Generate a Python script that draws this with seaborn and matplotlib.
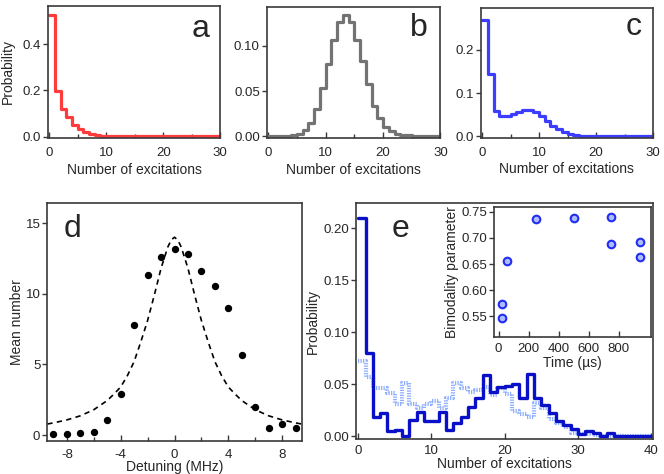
import numpy as np
import pandas as pd
import seaborn as sns
import matplotlib
matplotlib.use("Agg")
import matplotlib.pyplot as plt
from matplotlib.ticker import MultipleLocator

# ---------------- data ----------------
# panel a (bins of width 1 starting at 0)
prob_a = [0.526, 0.197, 0.119, 0.083, 0.051, 0.033, 0.021, 0.011, 0.007, 0.004,
          0.001, 0.001, 0.001, 0.001, 0.001, 0.001, 0.001, 0.001, 0.001, 0.001,
          0.001, 0.001, 0.001, 0.001, 0.001, 0.001, 0.001, 0.001, 0.001, 0.001]
# panel b
prob_b = [0.0005, 0.0005, 0.0005, 0.0007, 0.001, 0.003, 0.007, 0.015, 0.030, 0.053,
          0.080, 0.1065, 0.1265, 0.1345, 0.1265, 0.1065, 0.083, 0.0575, 0.034, 0.020,
          0.010, 0.0055, 0.003, 0.0015, 0.001, 0.0007, 0.0005, 0.0005, 0.0005, 0.0005]
# panel c
prob_c = [0.268, 0.143, 0.059, 0.048, 0.048, 0.052, 0.057, 0.0615, 0.0615, 0.0555,
          0.046, 0.035, 0.025, 0.016, 0.010, 0.0053, 0.003, 0.0015, 0.0008, 0.0005,
          0.0005, 0.0005, 0.0005, 0.0005, 0.0005, 0.0005, 0.0005, 0.0005, 0.0005, 0.0005]

# panel d: measured mean number vs detuning
detuning = [-9, -8, -7, -6, -5, -4, -3, -2, -1, 0, 1, 2, 3, 4, 5, 6, 7, 8, 9]
mean_number = [0.05, 0.05, 0.17, 0.24, 1.1, 2.88, 7.8, 11.3, 12.57, 13.18,
               12.8, 11.63, 10.52, 9.0, 5.66, 1.98, 0.47, 0.75, 0.5]
# panel d: dashed theory curve
theory_x = [-9.45, -9, -8, -7, -6, -5, -4.5, -4, -3.5, -3, -2.5, -2, -1.5, -1, -0.5,
            -0.25, 0, 0.25, 0.5, 1, 1.5, 2, 2.5, 3, 3.5, 4, 4.5, 5, 6, 7, 8, 9, 9.45]
theory_y = [0.78, 0.86, 1.07, 1.36, 1.79, 2.44, 2.9, 3.4, 4.2, 5.2, 6.6, 8.1, 9.9, 11.8, 13.3,
            13.8, 14.0, 13.8, 13.3, 11.8, 9.9, 8.1, 6.6, 5.2, 4.2, 3.4, 2.9, 2.44, 1.79, 1.36,
            1.07, 0.86, 0.78]

# panel e: two histograms (bins of width 1 from 0 to 40)
prob_e_dark = [0.210, 0.080, 0.0186, 0.0225, 0.0048, 0.0064, 0.0005, 0.016, 0.0228, 0.0144,
               0.0144, 0.0228, 0.0058, 0.0122, 0.018, 0.0276, 0.0363, 0.0585, 0.0427, 0.047,
               0.048, 0.050, 0.0365, 0.060, 0.0365, 0.030, 0.0225, 0.015, 0.011, 0.007,
               0.002, 0.0048, 0.003, 0.0005, 0.0026, 0.0003, 0.0003, 0.0003, 0.0003, 0.0003]
prob_e_light = [0.0726, 0.057, 0.046, 0.046, 0.042, 0.0305, 0.0508, 0.0305, 0.0267, 0.0305,
                0.034, 0.0267, 0.0363, 0.0508, 0.046, 0.0427, 0.044, 0.047, 0.0395, 0.046,
                0.041, 0.024, 0.021, 0.018, 0.0315, 0.027, 0.017, 0.013, 0.0093, 0.0035,
                0.002, 0.002, 0.001, 0.0005, 0.0005, 0.0005, 0.0005, 0.0005, 0.0005, 0.0005]

# inset: bimodality parameter vs time
time_us = [25, 25, 55, 250, 500, 750, 750, 945, 945]
bimodality = [0.574, 0.5465, 0.6565, 0.736, 0.738, 0.739, 0.689, 0.693, 0.6635]

# ---------------- style ----------------
sns.set_style("ticks")
plt.rcParams["font.family"] = ["Liberation Sans", "DejaVu Sans"]
plt.rcParams["font.size"] = 9.5
plt.rcParams["axes.unicode_minus"] = False
FRAME = "#3a3a3a"

fig = plt.figure(figsize=(6.64, 4.74), dpi=100)
W, H = 664, 474


def add_ax(left, top, right, bottom):
    return fig.add_axes([left / W, (H - bottom) / H, (right - left) / W, (bottom - top) / H])


def style_ax(ax, xpad=7):
    for s in ax.spines.values():
        s.set_visible(True)
        s.set_color(FRAME)
        s.set_linewidth(1.2)
    ax.tick_params(axis="x", which="both", direction="in", pad=xpad, labelsize=9.5,
                   color=FRAME, width=1.0, top=False)
    ax.tick_params(axis="x", which="major", length=4)
    ax.tick_params(axis="x", which="minor", length=3)
    ax.tick_params(axis="y", which="both", direction="out", pad=1.5, labelsize=9.5,
                   color=FRAME, width=1.0, length=3.5, right=False)
    ax.grid(False)


def step_frame(vals):
    v = list(vals) + [vals[-1]]
    return pd.DataFrame({"n": np.arange(len(v)), "p": v})


letter_kw = dict(fontsize=23, ha="center", va="baseline")

# ---------------- panels a, b, c ----------------
specs = [
    (prob_a, "#ff3b3b", (47.7, 6, 220.3, 137.7), (-0.005, 0.565), [0.0, 0.2, 0.4], "%.1f", "a", (0.884, 0.765)),
    (prob_b, "#737373", (266.7, 7, 440.5, 137.7), (-0.0015, 0.143), [0.0, 0.05, 0.10], "%.2f", "b", (0.875, 0.778)),
    (prob_c, "#3d3dff", (480.7, 8, 653.0, 137.7), (-0.003, 0.296), [0.0, 0.1, 0.2], "%.1f", "c", (0.890, 0.792)),
]
for i, (vals, col, box, ylim, yt, fmt, letter, lpos) in enumerate(specs):
    ax = add_ax(*box)
    df = step_frame(vals)
    sns.lineplot(data=df, x="n", y="p", ax=ax, color=col, lw=2.3,
                 drawstyle="steps-post", estimator=None, sort=False)
    ax.set_xlim(-0.25, 30)
    ax.set_ylim(*ylim)
    ax.set_xticks([0, 10, 20, 30])
    ax.xaxis.set_minor_locator(MultipleLocator(5))
    ax.set_yticks(yt)
    ax.set_yticklabels([fmt % t for t in yt])
    style_ax(ax)
    ax.set_xlabel("Number of excitations", fontsize=10)
    ax.xaxis.set_label_coords(0.5, -0.19)
    ax.xaxis.label.set_va("top")
    if i == 0:
        ax.set_ylabel("Probability", fontsize=10)
        ax.yaxis.set_label_coords(-0.19, 0.5)
    else:
        ax.set_ylabel("")
    ax.text(lpos[0], lpos[1], letter, transform=ax.transAxes, **letter_kw)

# ---------------- panel d ----------------
axd = add_ax(47.3, 203.3, 301.7, 440.7)
sns.lineplot(x=theory_x, y=theory_y, ax=axd, color="black", lw=1.2,
             linestyle=(0, (3.2, 2.6)), estimator=None, sort=False)
sns.scatterplot(x=detuning, y=mean_number, ax=axd, color="black", s=28,
                edgecolor="black", linewidth=0, zorder=3)
axd.set_xlim(-9.45, 9.45)
axd.set_ylim(-0.4, 16.4)
axd.set_xticks([-8, -4, 0, 4, 8])
axd.xaxis.set_minor_locator(MultipleLocator(2))
axd.set_yticks([0, 5, 10, 15])
style_ax(axd, xpad=6.0)
axd.set_xlabel("Detuning (MHz)", fontsize=10)
axd.xaxis.set_label_coords(0.5, -0.082)
axd.xaxis.label.set_va("top")
axd.set_ylabel("Mean number", fontsize=10)
axd.yaxis.set_label_coords(-0.093, 0.5)
axd.text(0.101, 0.859, "d", transform=axd.transAxes, **letter_kw)

# ---------------- panel e ----------------
axe = add_ax(356, 203.3, 653.3, 439.3)
df_l = step_frame(prob_e_light)
df_d = step_frame(prob_e_dark)
sns.lineplot(data=df_l, x="n", y="p", ax=axe, color="#8fb0ff", lw=3.0,
             linestyle=(0, (0.3, 0.3)), drawstyle="steps-post", estimator=None, sort=False)
sns.lineplot(data=df_d, x="n", y="p", ax=axe, color="#0a10c8", lw=2.4,
             drawstyle="steps-post", estimator=None, sort=False)
axe.set_xlim(-0.3, 40.3)
axe.set_ylim(-0.003, 0.224)
axe.set_xticks([0, 10, 20, 30, 40])
axe.set_yticks([0.0, 0.05, 0.10, 0.15, 0.20])
axe.set_yticklabels(["0.00", "0.05", "0.10", "0.15", "0.20"])
style_ax(axe, xpad=4.0)
axe.set_xlabel("Number of excitations", fontsize=10)
axe.xaxis.set_label_coords(0.5, -0.074)
axe.xaxis.label.set_va("top")
axe.set_ylabel("Probability", fontsize=10)
axe.yaxis.set_label_coords(-0.122, 0.5)
axe.text(0.148, 0.858, "e", transform=axe.transAxes, **letter_kw)

# ---------------- inset ----------------
axi = add_ax(494.3, 206.7, 651, 336.7)
sns.scatterplot(x=time_us, y=bimodality, ax=axi, s=30, color="#b0baff",
                edgecolor="#1f2ef0", linewidth=1.5, zorder=3)
axi.set_xlim(-29, 1015)
axi.set_ylim(0.5114, 0.7595)
axi.set_xticks([0, 200, 400, 600, 800])
axi.set_yticks([0.55, 0.60, 0.65, 0.70, 0.75])
axi.set_yticklabels(["0.55", "0.60", "0.65", "0.70", "0.75"])
style_ax(axi, xpad=4.5)
axi.set_xlabel("Time (\u00b5s)", fontsize=10)
axi.xaxis.set_label_coords(0.5, -0.145)
axi.xaxis.label.set_va("top")
axi.set_ylabel("Bimodality parameter", fontsize=10)
axi.yaxis.set_label_coords(-0.225, 0.5)

fig.savefig("out.png", dpi=100, facecolor="white")
